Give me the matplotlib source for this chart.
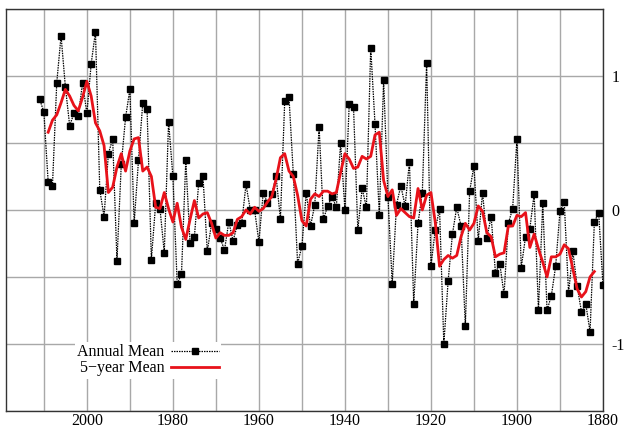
import numpy as np
import matplotlib
matplotlib.use("Agg")
import matplotlib.pyplot as plt

# annual mean anomaly, 1880-2011
years = list(range(1880, 2012))
annual = [
    -0.56, -0.02, -0.09, -0.91, -0.70, -0.76, -0.57, -0.31, -0.62, 0.06,   # 1880s
    -0.01, -0.42, -0.64, -0.75, 0.05, -0.75, 0.12, -0.14, -0.20, -0.43,    # 1890s
    0.53, 0.01, -0.10, -0.63, -0.40, -0.47, -0.05, -0.21, 0.13, -0.23,     # 1900s
    0.33, 0.14, -0.87, -0.12, 0.02, -0.18, -0.53, -1.00, 0.01, -0.15,      # 1910s
    -0.42, 1.10, 0.13, -0.10, -0.70, 0.36, 0.03, 0.18, 0.04, -0.55,       # 1920s
    0.10, 0.97, -0.04, 0.64, 1.21, 0.02, 0.16, -0.15, 0.77, 0.79,          # 1930s
    0.00, 0.50, 0.02, 0.10, 0.03, -0.07, 0.62, 0.04, -0.12, 0.13,          # 1940s
    -0.27, -0.40, 0.27, 0.84, 0.81, -0.07, 0.25, 0.12, 0.05, 0.13,         # 1950s
    -0.24, 0.00, 0.00, 0.19, -0.10, -0.11, -0.23, -0.09, -0.30, -0.21,     # 1960s
    -0.14, -0.10, -0.31, 0.25, 0.20, -0.20, -0.25, 0.37, -0.48, -0.55,     # 1970s
    0.25, 0.66, -0.32, 0.01, 0.05, -0.37, 0.75, 0.80, 0.37, -0.10,         # 1980s
    0.90, 0.69, 0.34, -0.38, 0.53, 0.42, -0.05, 0.15, 1.33, 1.09,          # 1990s
    0.72, 0.95, 0.70, 0.72, 0.63, 0.92, 1.30, 0.95, 0.18, 0.21,            # 2000s
    0.73, 0.83,                                                            # 2010s
]

# 5-year mean, 1882-2009
years5 = list(range(1882, 2010))
mean5 = [
    -0.46, -0.50, -0.61, -0.65, -0.59, -0.44, -0.29, -0.26,
    -0.33, -0.35, -0.35, -0.50, -0.39, -0.29, -0.18, -0.28, -0.02, -0.05,
    -0.04, -0.12, -0.12, -0.32, -0.33, -0.35, -0.20, -0.17, -0.01, 0.03,
    -0.10, -0.15, -0.10, -0.20, -0.34, -0.36, -0.34, -0.37, -0.42, -0.09,
    0.13, 0.11, 0.00, 0.16, -0.06, -0.05, -0.02, 0.01, -0.04, 0.15,
    0.10, 0.22, 0.58, 0.56, 0.40, 0.38, 0.40, 0.32, 0.31, 0.38,
    0.42, 0.28, 0.13, 0.12, 0.14, 0.14, 0.10, 0.12, 0.08, -0.12,
    -0.08, 0.11, 0.25, 0.29, 0.42, 0.39, 0.23, 0.10, 0.06, 0.01,
    -0.01, 0.02, -0.03, 0.00, -0.05, -0.07, -0.17, -0.19, -0.19, -0.17,
    -0.21, -0.10, -0.02, -0.03, -0.06, 0.07, -0.07, -0.22, -0.13, 0.05,
    -0.09, 0.01, 0.13, 0.01, 0.02, 0.25, 0.32, 0.29, 0.54, 0.53,
    0.44, 0.29, 0.42, 0.32, 0.17, 0.13, 0.48, 0.59, 0.65, 0.85,
    0.96, 0.84, 0.74, 0.78, 0.85, 0.90, 0.80, 0.71, 0.67, 0.58,
]

x_ticks = [2010, 2000, 1990, 1980, 1970, 1960, 1950, 1940, 1930, 1920, 1910, 1900, 1890, 1880]
x_labels = ["", "2000", "", "1980", "", "1960", "", "1940", "", "1920", "", "1900", "", "1880"]
y_ticks = [-1.5, -1.0, -0.5, 0.0, 0.5, 1.0, 1.5]
y_labels = ["", "-1", "", "0", "", "1", ""]

plt.rcParams['font.family'] = ['Liberation Serif', 'DejaVu Serif']

fig = plt.figure(figsize=(6.26, 4.28), dpi=100)
ax = fig.add_axes([0.0096, 0.040, 0.9536, 0.939])

ax.plot(years, annual, color='black', linestyle=(0, (1.2, 0.8)), linewidth=0.9,
        marker='s', markersize=4.5, markerfacecolor='black', markeredgecolor='black',
        label='Annual Mean', zorder=3)
ax.plot(years5, mean5, color='#e8121a', linewidth=2.0, label='5\u2212year Mean', zorder=4)

ax.set_xlim(2018.8, 1880)
ax.set_ylim(-1.5, 1.5)
ax.set_xticks(x_ticks)
ax.set_xticklabels(x_labels)
ax.set_yticks(y_ticks)
ax.set_yticklabels(y_labels)
ax.yaxis.tick_right()
ax.tick_params(axis='both', length=0, labelsize=11.5)
ax.tick_params(axis='y', pad=6)
ax.tick_params(axis='x', pad=1.5)
ax.grid(True, color='#a8a8a8', linewidth=1.0)
ax.set_axisbelow(True)
for sp in ax.spines.values():
    sp.set_color('#333333')
    sp.set_linewidth(1.0)

leg = ax.legend(loc='upper right', bbox_to_anchor=(0.36, 0.172), markerfirst=False,
                frameon=True, framealpha=1.0, edgecolor='none', facecolor='white',
                fontsize=11.5, handlelength=3.0, handletextpad=0.4, borderpad=0.15,
                labelspacing=0.0, borderaxespad=0, fancybox=False)

fig.savefig("out.png", dpi=100)
